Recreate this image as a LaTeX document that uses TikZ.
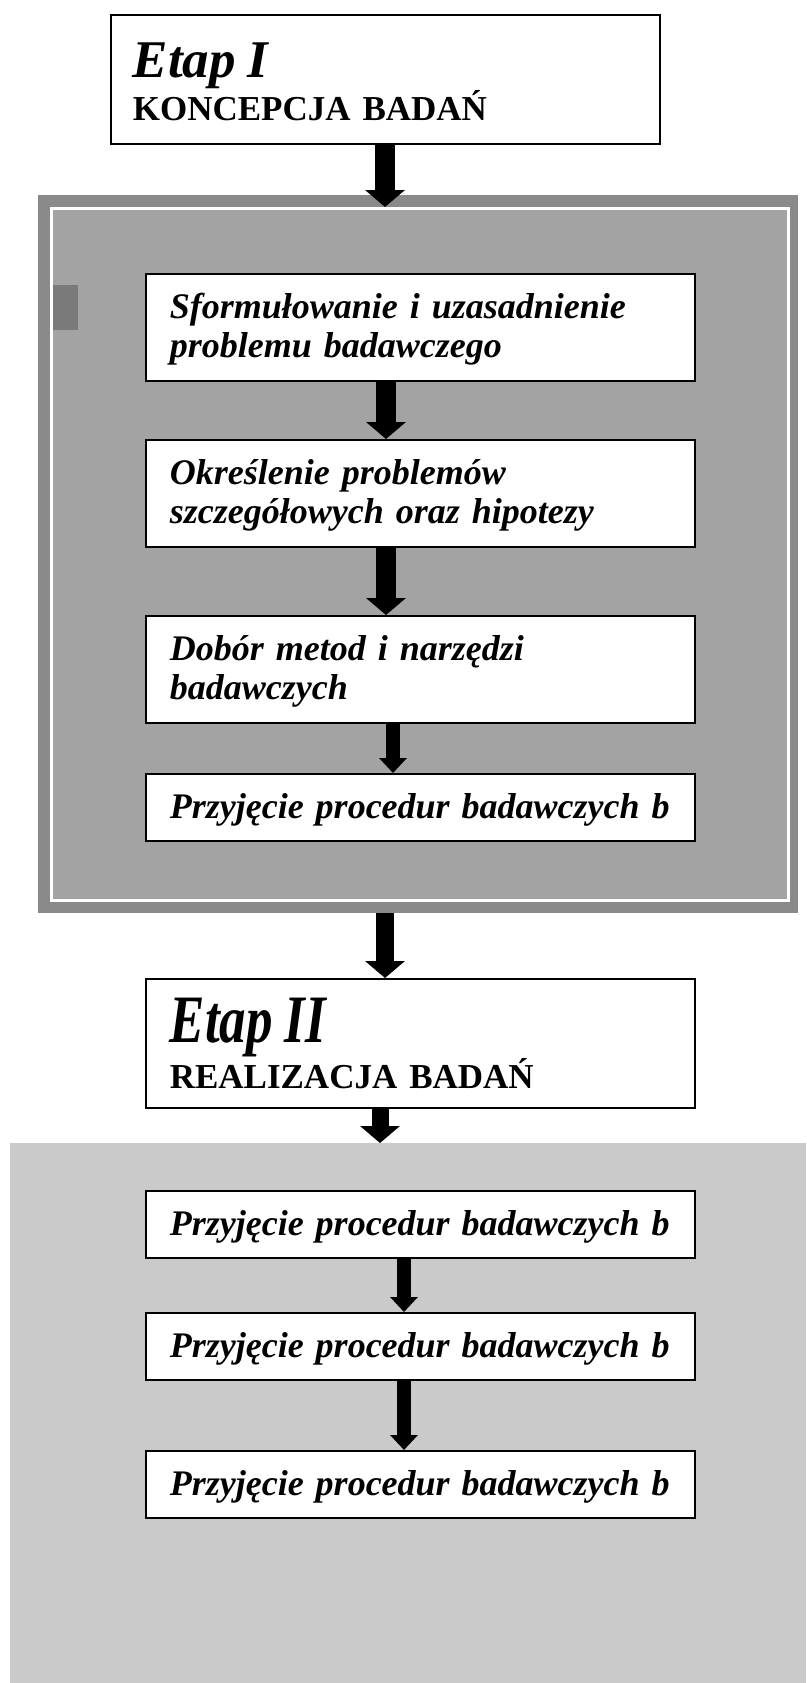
\documentclass[tikz,border=0pt]{standalone}
\usepackage{fontspec}
\setmainfont{Liberation Serif}
\usepackage{tikz}
\usetikzlibrary{arrows.meta}
\definecolor{frameband}{HTML}{8A8A8A}
\definecolor{panelgray}{HTML}{A3A3A3}
\definecolor{lightpanel}{HTML}{CACACA}
\definecolor{spotgray}{HTML}{7A7A7A}
\lineskiplimit=-20pt
\tikzset{
  stepbox/.style={draw, fill=white, line width=1.6pt, anchor=north west,
    text width=501pt, inner xsep=24pt, inner ysep=12pt, align=left,
    font=\fontsize{36}{39}\selectfont\bfseries\itshape},
  onerow/.style={text height=33pt, text depth=10pt},
  tworow/.style={text height=33pt, text depth=50pt},
  etapbox/.style={stepbox, text width=505pt, inner xsep=22pt},
  backbox/.style={anchor=north west, inner sep=0pt, draw=none},
  fatarrow/.style={line width=20pt, -{Triangle[width=39pt,length=17pt]}},
  thinarrow/.style={line width=14pt, -{Triangle[width=27pt,length=15pt]}},
}
\newcommand{\fatlink}[4]{\draw[#4] (#1.south -| #3) -- (#2.north -| #3);}

\begin{document}
\begin{tikzpicture}[x=1pt,y=-1pt]
\useasboundingbox (0,0) rectangle (806,1683);
% background panels
\node[backbox, fill=frameband, minimum width=760pt, minimum height=718pt] (frame1) at (38,195) {};
\node[backbox, fill=panelgray, draw=white, line width=3pt, minimum width=737pt, minimum height=692pt] (panel1) at (50,207) {};
\fill[spotgray] (53,285) rectangle (78,330);
\node[backbox, fill=lightpanel, minimum width=796pt, minimum height=540pt] (field2) at (10,1143) {};
% arrow columns
\coordinate (axisA) at (385,0);
\coordinate (axisB) at (386,0);
\coordinate (axisC) at (393,0);
\coordinate (axisD) at (380,0);
\coordinate (axisE) at (404,0);
% stage I
\node[etapbox, text height=51pt, text depth=54pt] (etapone) at (110,14)
  {\fontsize{53}{43}\selectfont Etap I\\\fontsize{35}{43}\selectfont\upshape KONCEPCJA BADAŃ};
\node[stepbox, tworow] (sform) at (145,273) {Sformułowanie i uzasadnienie problemu badawczego};
\node[stepbox, tworow] (okresl) at (145,439) {Określenie problemów szczegółowych oraz hipotezy};
\node[stepbox, tworow] (dobor) at (145,615) {Dobór metod i narzędzi\\badawczych};
\node[stepbox, onerow] (przyjI) at (145,773) {Przyjęcie procedur badawczych b};
% stage II
\node[stepbox, text height=52pt, text depth=53pt] (etaptwo) at (145,978)
  {\fontsize{53}{45}\selectfont\scalebox{1}[1.28]{Etap II}\\\fontsize{35}{45}\selectfont\upshape REALIZACJA BADAŃ};
\node[stepbox, onerow] (przyjA) at (145,1190) {Przyjęcie procedur badawczych b};
\node[stepbox, onerow] (przyjB) at (145,1312) {Przyjęcie procedur badawczych b};
\node[stepbox, onerow] (przyjC) at (145,1450) {Przyjęcie procedur badawczych b};
% arrows
\fatlink{etapone}{panel1}{axisA}{fatarrow}
\fatlink{sform}{okresl}{axisB}{fatarrow}
\fatlink{okresl}{dobor}{axisB}{fatarrow}
\fatlink{dobor}{przyjI}{axisC}{thinarrow}
\fatlink{frame1}{etaptwo}{axisA}{fatarrow, line width=18pt}
\fatlink{etaptwo}{field2}{axisD}{fatarrow, line width=17pt}
\fatlink{przyjA}{przyjB}{axisE}{thinarrow}
\fatlink{przyjB}{przyjC}{axisE}{thinarrow}
\end{tikzpicture}
\end{document}
